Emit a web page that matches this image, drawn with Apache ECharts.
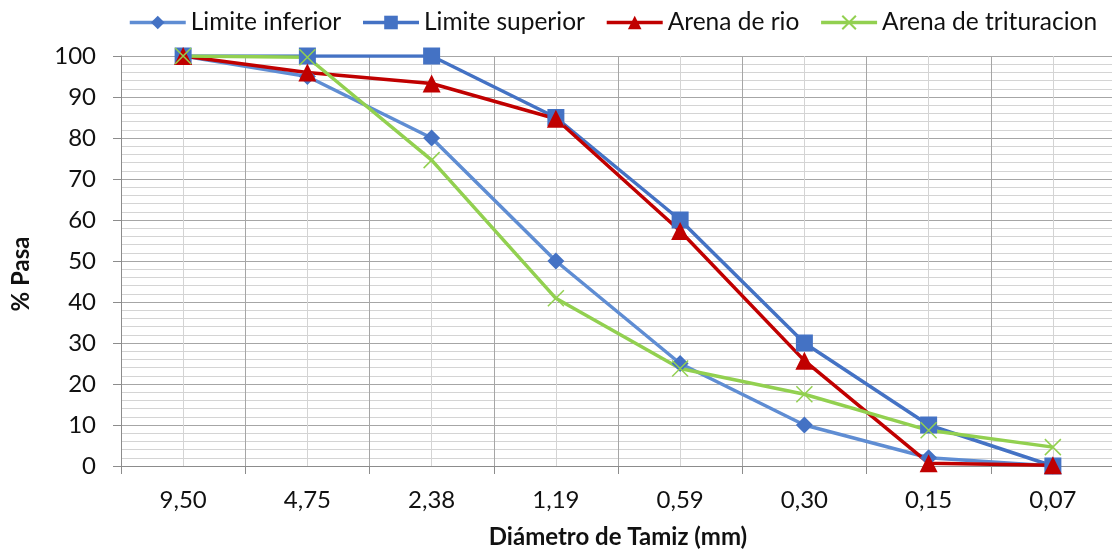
<!DOCTYPE html>
<html>
<head>
<meta charset="utf-8">
<script src="https://cdn.jsdelivr.net/npm/echarts@6/dist/echarts.min.js"></script>
<style>
  html, body { margin: 0; padding: 0; background: #fff; }
  #chart { width: 1112px; height: 550px; }
</style>
</head>
<body>
<div id="chart"></div>
<script>
// tamices (mm)
let categories = ["9,50", "4,75", "2,38", "1,19", "0,59", "0,30", "0,15", "0,07"];

let limiteInferior = [100, 95, 80, 50, 25, 10, 2, 0];
let limiteSuperior = [100, 100, 100, 85, 60, 30, 10, 0];
let arenaRio = [100, 96, 93.3, 84.7, 57.3, 25.7, 0.7, 0.2];
let arenaTrituracion = [100, 99.7, 74.6, 40.9, 23.8, 17.5, 8.7, 4.6];

let font = "Lato";
let crossPath = "path://M0,0L10,10M10,0L0,10";

let chart = echarts.init(document.getElementById("chart"));

chart.setOption({
  animation: false,
  textStyle: { fontFamily: font },
  legend: {
    top: 5,
    left: 123,
    itemWidth: 56,
    itemHeight: 17,
    itemGap: 20,
    lineStyle: { width: 3.5 },
    textStyle: { fontSize: 24.5, color: "#111", fontFamily: font },
    data: ["Limite inferior", "Limite superior", "Arena de rio", "Arena de trituracion"],
  },
  grid: {
    left: 121,
    right: -3,
    top: 56,
    bottom: 84,
    outerBoundsMode: "none",
  },
  xAxis: [
    {
      type: "category",
      data: categories,
      boundaryGap: true,
      name: "Diámetro de Tamiz (mm)",
      nameLocation: "middle",
      nameGap: 59,
      nameTextStyle: { fontSize: 24, fontWeight: "bold", color: "#111", fontFamily: font },
      axisLine: { lineStyle: { color: "#8c8c8c", width: 1 } },
      axisTick: { show: true, length: 8, lineStyle: { color: "#8c8c8c" } },
      axisLabel: { fontSize: 24, color: "#111", margin: 22, fontFamily: font },
      splitLine: { show: true, lineStyle: { color: "#a6a6a6", width: 1 } },
    },
    {
      // eje auxiliar solo para las lineas menores del centro de cada categoria
      type: "value",
      min: 0,
      max: 8,
      interval: 1,
      show: true,
      axisLine: { show: false },
      axisTick: { show: false },
      axisLabel: { show: false },
      splitLine: { show: false },
      minorTick: { show: false, splitNumber: 2 },
      minorSplitLine: { show: true, lineStyle: { color: "#d4d4d4", width: 1 } },
    },
  ],
  yAxis: {
    type: "value",
    min: 0,
    max: 100,
    interval: 10,
    name: "% Pasa",
    nameLocation: "middle",
    nameRotate: 90,
    nameGap: 88,
    nameTextStyle: { fontSize: 24, fontWeight: "bold", color: "#111", fontFamily: font, padding: [0, 26, 0, 0] },
    axisLine: { show: true, lineStyle: { color: "#8c8c8c" } },
    axisTick: { show: true, length: 8, lineStyle: { color: "#8c8c8c" } },
    axisLabel: { fontSize: 24, color: "#111", margin: 25, fontFamily: font },
    splitLine: { show: true, lineStyle: { color: "#a6a6a6", width: 1 } },
    minorTick: { show: false, splitNumber: 5 },
    minorSplitLine: { show: true, lineStyle: { color: "#d4d4d4", width: 1 } },
  },
  series: [
    {
      name: "Limite inferior",
      type: "line",
      data: limiteInferior,
      symbol: "diamond",
      symbolSize: 17,
      lineStyle: { color: "#5f8dd3", width: 3.5 },
      itemStyle: { color: "#4472C4" },
    },
    {
      name: "Limite superior",
      type: "line",
      data: limiteSuperior,
      symbol: "rect",
      symbolSize: 17,
      lineStyle: { color: "#4472C4", width: 3.5 },
      itemStyle: { color: "#4472C4" },
    },
    {
      name: "Arena de rio",
      type: "line",
      data: arenaRio,
      symbol: "triangle",
      symbolSize: 18,
      lineStyle: { color: "#C00000", width: 3.5 },
      itemStyle: { color: "#C00000" },
    },
    {
      name: "Arena de trituracion",
      type: "line",
      data: arenaTrituracion,
      symbol: crossPath,
      symbolSize: 16,
      lineStyle: { color: "#92D050", width: 3.5 },
      itemStyle: { color: "#92D050", borderColor: "#92D050", borderWidth: 1.5 },
    },
  ],
});
</script>
</body>
</html>
